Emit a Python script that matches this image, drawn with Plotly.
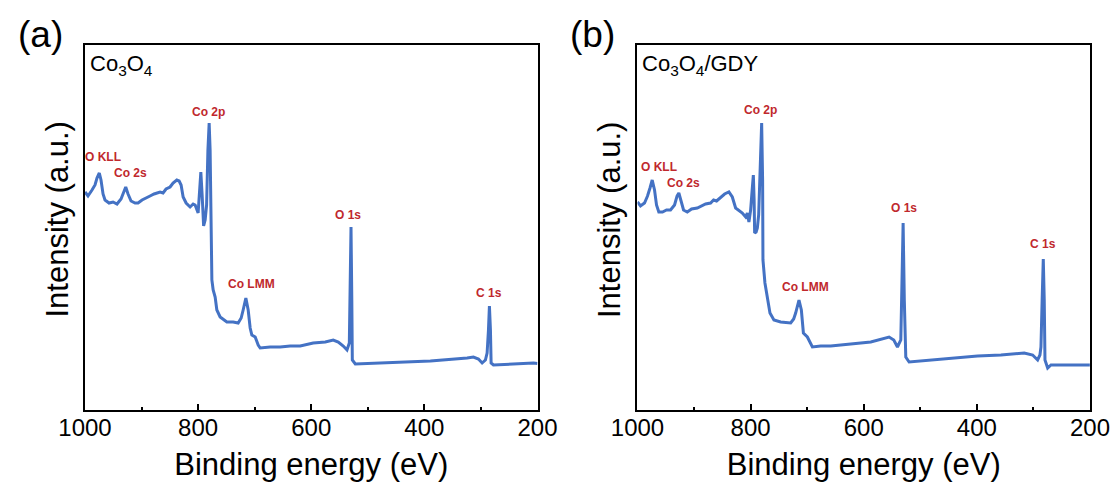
import plotly.graph_objects as go
from plotly.subplots import make_subplots

# ---------------- data ----------------
energy_a = [1000, 994.7, 987.6, 982.3, 978.8, 974.7, 971.7, 968.1, 964.6, 957.5, 950.4, 943.4,
            936.3, 931.0, 928.0, 923.9, 918.6, 911.5, 906.2, 899.1, 890.8, 885.0, 877.9, 870.8,
            867.3, 862.0, 856.7, 849.6, 844.3, 837.7, 833.6, 830.1, 826.5, 821.2, 814.2, 808.8,
            805.3, 800.0, 797.4, 795.2, 792.9, 791.7, 790.3, 787.6, 785.0, 782.7, 780.5, 778.8,
            777.3, 775.7, 773.4, 769.9, 766.9, 761.1, 749.2, 738.1, 729.2, 723.9, 720.4, 715.6,
            711.5, 708.0, 705.0, 699.1, 693.8, 690.3, 672.6, 654.9, 637.2, 619.5, 596.5, 575.2,
            561.1, 552.2, 543.4, 536.8, 532.7, 531.3, 529.7, 528.3, 527.4, 522.1, 495.6, 442.5,
            389.4, 324.4, 313.3, 304.4, 297.9, 292.1, 289.1, 286.7, 285.0, 283.2, 282.0, 277.9,
            247.8, 207.1, 200]
intensity_a = [219, 215, 221, 226, 233, 238, 231, 217, 211, 208, 209, 207,
               212, 221, 224, 217, 210, 208, 208, 211, 213, 215, 217, 218,
               219, 218, 222, 224, 228, 231, 230, 226, 214, 208, 204, 207,
               206, 198, 216, 239, 216, 194, 185, 191, 206, 261, 288, 261,
               201, 131, 121, 114, 101, 94, 89, 89, 88, 93, 101, 113,
               101, 83, 76, 74, 66, 63, 64, 64, 65, 65, 68, 69,
               71, 69, 65, 61, 68, 121, 184, 111, 51, 47, 47.5, 49,
               50, 53, 54, 52, 48, 51, 58, 81, 105, 81, 48, 46,
               47, 48, 47.5]

energy_b = [1000, 994.7, 987.6, 982.3, 977.9, 974.0, 969.9, 966.4, 962.3, 955.8, 948.7, 941.6,
            934.5, 930.1, 926.9, 923.0, 918.6, 912.0, 904.4, 894.3, 886.7, 879.6, 870.8, 865.5,
            860.2, 853.1, 846.0, 838.4, 832.4, 826.5, 820.4, 814.7, 808.8, 805.8, 803.0, 800.0,
            797.3, 795.2, 793.8, 792.9, 790.3, 788.1, 785.8, 783.2, 780.5, 778.8, 778.2, 774.7,
            770.4, 765.8, 758.8, 746.9, 729.2, 723.9, 720.4, 714.5, 710.3, 706.7, 699.7, 695.6,
            690.8, 676.1, 658.4, 623.0, 587.6, 555.2, 546.9, 540.4, 534.5, 532.7, 530.4, 528.3,
            525.7, 519.8, 481.4, 446.0, 398.8, 357.5, 316.3, 301.4, 292.6, 288.5, 286.7, 284.6,
            282.6, 280.9, 279.6, 274.8, 269.0, 233.6, 200.3]
intensity_b = [209, 205, 208, 215, 223, 231, 221, 206, 199, 199, 201, 201,
               206, 215, 218, 209, 201, 199, 202, 203, 205, 207, 208, 211,
               210, 214, 217, 219, 214, 203, 200, 198, 194, 198, 189, 201,
               221, 236, 211, 178, 179, 183, 196, 251, 288, 231, 151, 128,
               114, 98, 91, 89, 88, 92, 98, 111, 101, 78, 74, 69,
               64, 65, 65, 67, 69, 74, 71, 64, 71, 121, 188, 111,
               54, 49, 51, 53, 55, 56, 58, 56, 51, 56, 64, 111,
               152, 111, 51, 43, 46, 46, 46]

peak_labels = ["O KLL", "Co 2s", "Co 2p", "Co LMM", "O 1s", "C 1s"]
label_e_a = [968, 919, 782.3, 705, 534.5, 285]
label_i_a = [254, 238, 299, 127, 196.5, 117.7]
label_e_b = [962.3, 918, 782.3, 702.7, 528.7, 282.6]
label_i_b = [244, 228, 301, 124, 203, 167]

samples = ["Co<sub>3</sub>O<sub>4</sub>", "Co<sub>3</sub>O<sub>4</sub>/GDY"]
panel_tags = ["(a)", "(b)"]
x_ticks = [1000, 800, 600, 400, 200]
x_title = "Binding energy (eV)"
y_title = "Intensity (a.u.)"

# ---------------- figure ----------------
FONT = "Liberation Sans, Arial, sans-serif"
LINE = "#4472C4"
RED = "#C0282D"

fig = make_subplots(rows=1, cols=2, horizontal_spacing=0.0995)

for col, (ex, iy) in enumerate([(energy_a, intensity_a), (energy_b, intensity_b)], start=1):
    fig.add_trace(go.Scatter(x=ex, y=iy, mode="lines",
                             line=dict(color=LINE, width=3),
                             showlegend=False, hoverinfo="skip"), row=1, col=col)

for col, (le, li) in enumerate([(label_e_a, label_i_a), (label_e_b, label_i_b)], start=1):
    xr = "x" if col == 1 else "x2"
    yr = "y" if col == 1 else "y2"
    for t, e, i in zip(peak_labels, le, li):
        fig.add_annotation(x=e, y=i, xref=xr, yref=yr, text="<b>%s</b>" % t,
                           showarrow=False, font=dict(family=FONT, size=12, color=RED))

axis_common = dict(showline=True, linecolor="black", linewidth=2, mirror=True,
                   showgrid=False, zeroline=False, automargin=False)
for col in (1, 2):
    fig.update_xaxes(range=[1000, 200], tickvals=x_ticks, ticks="inside", ticklen=6,
                     tickwidth=1.5, tickcolor="black", ticklabelstandoff=-5,
                     minor=dict(dtick=100, ticks="inside", ticklen=3, tickwidth=1.5,
                                tickcolor="black", showgrid=False),
                     tickfont=dict(family=FONT, size=24, color="black"),
                     title=dict(text=x_title, font=dict(family=FONT, size=31, color="black"),
                                standoff=14),
                     row=1, col=col, **axis_common)
    fig.update_yaxes(range=[1, 366], showticklabels=False, ticks="",
                     row=1, col=col, **axis_common)

# sample names, panel tags, y titles
dom_a = fig.layout.xaxis.domain
dom_b = fig.layout.xaxis2.domain
for k, dom in enumerate([dom_a, dom_b]):
    fig.add_annotation(x=dom[0], y=1, xref="paper", yref="paper", text=samples[k],
                       xanchor="left", yanchor="top", xshift=3, yshift=-4, showarrow=False,
                       font=dict(family=FONT, size=22, color="black"))
    fig.add_annotation(x=dom[0], y=1, xref="paper", yref="paper", text=panel_tags[k],
                       xanchor="center", yanchor="middle", xshift=-45, yshift=11,
                       showarrow=False, font=dict(family=FONT, size=37, color="black"))
    fig.add_annotation(x=dom[0], y=0.5, xref="paper", yref="paper", text=y_title,
                       textangle=-90, xanchor="center", yanchor="middle", xshift=-28,
                       yshift=8, showarrow=False,
                       font=dict(family=FONT, size=31, color="black"))

fig.update_layout(width=1114, height=486, paper_bgcolor="white", plot_bgcolor="white",
                  margin=dict(l=85, r=24, t=45, b=76, autoexpand=False),
                  font=dict(family=FONT, color="black"))

fig.write_html("out.html", config={"displayModeBar": False},
               post_script="document.body.style.margin='0';document.body.style.overflow='hidden';")
